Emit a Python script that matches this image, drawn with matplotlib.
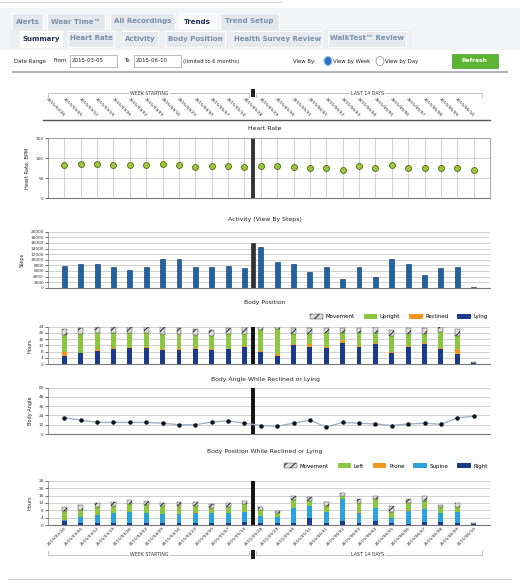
import numpy as np
import matplotlib
matplotlib.use("Agg")
import matplotlib.pyplot as plt
from matplotlib.patches import Rectangle, Patch, Circle

# ---- data ----
WEEKS = ["2015/02/26", "2015/03/05", "2015/03/12", "2015/03/19", "2015/03/26", "2015/04/02",
         "2015/04/09", "2015/04/16", "2015/04/23", "2015/04/30", "2015/05/07", "2015/05/14"]
DAYS = ["2015/05/28", "2015/05/29", "2015/05/30", "2015/05/31", "2015/06/01", "2015/06/02",
        "2015/06/03", "2015/06/04", "2015/06/05", "2015/06/06", "2015/06/07", "2015/06/08",
        "2015/06/09", "2015/06/10"]

HR_WEEK = [83, 84, 84, 83, 82, 83, 84, 82, 78, 79, 80, 77]
HR_DAY = [79, 80, 77, 75, 75, 71, 80, 74, 82, 76, 74, 74, 76, 71]

STEPS_WEEK = [7800, 8300, 8500, 7400, 6200, 7500, 10100, 10100, 7500, 7300, 7700, 7000]
STEPS_DAY = [14400, 9300, 8300, 5600, 7300, 3000, 7500, 3700, 10400, 8300, 4600, 7000, 7300, 300]
STEPS_SEPARATOR = 16000

# body position, hours per layer (bottom -> top)
LYING = [5.4, 6.9, 8.6, 9.4, 10.5, 10.1, 9.2, 9.2, 9.6, 9.0, 9.4, 10.9,
         7.5, 5.4, 12.4, 10.9, 10.1, 13.7, 10.9, 13.1, 7.1, 11.1, 12.6, 9.6, 6.6, 0.6]
RECLINED = [2.1, 0.4, 0.8, 0.7, 0.4, 0.6, 0.7, 0.9, 0.5, 0.4, 0.5, 0.5,
            0.8, 0.8, 0.7, 1.7, 0.6, 1.9, 0.7, 0.6, 0.4, 0.7, 0.9, 0.7, 2.8, 0.0]
UPRIGHT = [11.1, 12.0, 10.5, 9.6, 8.8, 9.2, 9.6, 9.4, 8.5, 8.8, 9.6, 8.1,
           13.3, 16.1, 6.0, 6.9, 9.0, 4.3, 8.1, 6.2, 10.3, 7.5, 5.6, 10.3, 8.6, 0.0]
MOVEMENT = [3.9, 3.6, 3.9, 3.9, 3.9, 3.7, 4.1, 3.9, 3.9, 3.4, 3.6, 4.1,
            2.0, 1.3, 4.0, 3.9, 3.7, 3.0, 3.2, 3.7, 4.1, 3.6, 4.0, 3.4, 4.3, 0.4]

ANGLE = [21, 18, 15, 15, 15, 15, 14, 12, 12, 15.5, 17, 14,
         11, 10, 14, 18, 9, 15, 14, 13, 11, 13, 14, 12.5, 21, 23]

# reclined or lying, hours per layer (bottom -> top)
RIGHT = [2.5, 1.1, 1.4, 1.4, 1.4, 1.3, 1.3, 1.4, 1.3, 1.3, 1.4, 1.8,
         1.1, 1.1, 1.1, 3.8, 1.1, 2.3, 1.1, 2.5, 1.1, 0.9, 2.0, 2.0, 1.4, 0.7]
SUPINE = [0.4, 3.2, 4.1, 5.0, 5.9, 5.1, 4.6, 4.7, 5.5, 5.1, 5.0, 5.5,
          3.9, 3.2, 8.0, 6.6, 6.1, 11.7, 5.7, 6.6, 2.7, 7.0, 6.6, 4.4, 5.9, 0.0]
PRONE = [0.1, 0.1, 0.1, 0.1, 0.1, 0.1, 0.1, 0.1, 0.1, 0.1, 0.1, 0.1,
         0.1, 0.1, 0.1, 0.1, 0.1, 0.1, 0.1, 0.1, 0.1, 0.1, 0.1, 0.1, 0.1, 0.0]
LEFT = [4.7, 3.8, 4.4, 4.1, 4.1, 4.4, 4.6, 4.2, 3.7, 2.8, 3.5, 3.9,
        3.1, 2.0, 4.4, 2.6, 3.1, 1.7, 4.9, 4.8, 3.4, 3.8, 4.5, 3.2, 2.6, 0.0]
MOVEMENT_RL = [2.3, 2.7, 2.2, 1.8, 2.1, 2.2, 1.4, 2.0, 1.8, 2.2, 1.8, 1.9,
               1.6, 1.5, 2.2, 1.9, 2.3, 1.4, 2.2, 1.9, 3.1, 2.2, 2.6, 1.2, 2.2, 0.3]

W, H = 520, 585
GREEN, ORANGE, NAVY, SKY = "#8cc63f", "#f7941d", "#1c3a8a", "#2aa3dc"
MOVE_FACE, MOVE_EDGE = "#dcdcdc", "#333333"
TAB_TXT, TAB_ACTIVE = "#7a8eab", "#1e2e52"

plt.rcParams["font.family"] = ["DejaVu Sans"]
plt.rcParams["hatch.linewidth"] = 0.8


def px_box(l, t, r, b):
    return [l / W, 1 - b / H, (r - l) / W, (b - t) / H]


def ftext(x, y, s, **kw):
    fig.text(x / W, 1 - y / H, s, **kw)


def frect(l, t, r, b, **kw):
    fig.patches.append(Rectangle((l / W, 1 - b / H), (r - l) / W, (b - t) / H,
                                 transform=fig.transFigure, **kw))


fig = plt.figure(figsize=(5.2, 5.85), dpi=100)
fig.patch.set_facecolor("white")

# ---- tab strip / controls ----
frect(0, 8, 520, 50, facecolor="#f3f4f6", edgecolor="none")
frect(0, 2, 282, 3, facecolor="#d5d5d5", edgecolor="none")
for l, r, s, active in [(12, 43, "Alerts", False), (47, 105, "Wear Time™", False),
                        (110, 175, "All Recordings", False), (179, 216, "Trends", True),
                        (220, 279, "Trend Setup", False)]:
    frect(l, 13, r, 30, facecolor="#fafafa" if active else "#e4e7eb", edgecolor="white", lw=0.8)
    ftext((l + r) / 2, 21.5, s, fontsize=5, weight="bold", ha="center", va="center",
          color=TAB_ACTIVE if active else TAB_TXT)
frect(10, 30, 412, 48, facecolor="#eceef1", edgecolor="none")
for l, r, s, active in [(20, 62, "Summary", True), (68, 114, "Heart Rate", False),
                        (123, 158, "Activity", False), (165, 225, "Body Position", False),
                        (233, 322, "Health Survey Review", False), (328, 406, "WalkTest™ Review", False)]:
    frect(l, 31, r, 47, facecolor="white" if active else "#e6e9ed", edgecolor="white", lw=0.8)
    ftext((l + r) / 2, 38.5, s, fontsize=5, weight="bold", ha="center", va="center",
          color=TAB_ACTIVE if active else TAB_TXT)

ftext(14, 61, "Date Range", fontsize=3.9, va="center", color="#222")
ftext(53, 61, "From", fontsize=3.9, va="center", color="#222")
frect(70, 55, 117, 67, facecolor="white", edgecolor="#a0a0a0", lw=0.5)
ftext(72, 61, "2015-03-05", fontsize=4, va="center", color="#222")
ftext(124, 61, "To", fontsize=3.9, va="center", color="#222")
frect(134, 55, 181, 67, facecolor="white", edgecolor="#a0a0a0", lw=0.5)
ftext(136, 61, "2015-06-10", fontsize=4, va="center", color="#222")
ftext(183, 61, "(limited to 6 months)", fontsize=3.8, va="center", color="#222")
ftext(293, 61, "View By:", fontsize=3.9, va="center", color="#222")
fig.patches.append(Circle((328 / W, 1 - 61 / H), 4 / W, transform=fig.transFigure,
                          facecolor="#2d6fc0", edgecolor="#a8c4e6", lw=0.8))
ftext(333, 61, "View by Week", fontsize=3.9, va="center", color="#222")
fig.patches.append(Circle((380 / W, 1 - 61 / H), 4 / W, transform=fig.transFigure,
                          facecolor="white", edgecolor="#888", lw=0.5))
ftext(385, 61, "View by Day", fontsize=3.9, va="center", color="#222")
frect(452, 54, 498, 68, facecolor="#5cb531", edgecolor="#4a9a27", lw=0.5)
ftext(475, 61, "Refresh", fontsize=4.3, weight="bold", ha="center", va="center", color="white")
frect(12, 71, 508, 73, facecolor="#b4b4b4", edgecolor="none")
frect(8, 579, 512, 580, facecolor="#cfcfcf", edgecolor="none")

labels = WEEKS + DAYS
n_week = len(WEEKS)
x_all = np.arange(len(labels))
x_week, x_day = x_all[:n_week], x_all[n_week:]
sep = n_week - 0.5
XLIM = (-1, len(labels))
BAR_W = 0.3


def bracket(ax, y, up):
    tr = ax.get_xaxis_transform()
    d = 0.1 if up else -0.1
    for x0, x1, xm, s in [(-1, sep - 0.2, 5.2, "WEEK STARTING"), (sep + 0.2, 25.5, 18.5, "LAST 14 DAYS")]:
        ax.plot([x0, x0, x1, x1], [y + d, y, y, y + d], transform=tr, color="#b8b8b8", lw=0.6,
                clip_on=False)
        ax.text(xm, y, s, transform=tr, fontsize=3.4, ha="center", va="center", color="#333",
                bbox=dict(facecolor="white", edgecolor="none", pad=0.6))
    ax.add_patch(Rectangle((sep - 0.12, y - 0.12), 0.24, 0.24, transform=tr,
                           facecolor="#222", edgecolor="none"))


# ---- top date header ----
hdr = fig.add_axes(px_box(48, 85, 490, 119))
hdr.set_xlim(*XLIM)
hdr.set_ylim(0, 1)
hdr.axis("off")
for xi, s in zip(x_all, labels):
    hdr.text(xi, 0.08, s, fontsize=3.2, rotation=-45, rotation_mode="anchor",
             ha="right", va="center", color="#222")
bracket(hdr, 0.76, up=False)
hdr.plot([-1.3, XLIM[1]], [-0.02, -0.02], color="#555", lw=1.0, clip_on=False)


def base_axes(box, ylim, yticks, ylabel, title, title_y):
    ax = fig.add_axes(px_box(*box))
    ax.set_xlim(*XLIM)
    ax.set_ylim(*ylim)
    ax.set_yticks(yticks)
    ax.set_xticks([])
    ax.tick_params(axis="y", labelsize=3.1, length=2, width=0.5, pad=1, colors="#333")
    ax.grid(axis="y", color="#c9c9c9", lw=0.6)
    ax.set_axisbelow(True)
    for sp in ["top", "right"]:
        ax.spines[sp].set_visible(False)
    ax.spines["left"].set_color("#888")
    ax.spines["bottom"].set_color("#777")
    ax.spines["left"].set_linewidth(0.6)
    ax.spines["bottom"].set_linewidth(0.8)
    ax.set_ylabel(ylabel, fontsize=3.6, labelpad=4, color="#222")
    ftext(265, title_y, title, fontsize=4.4, ha="center", va="center", color="#222")
    return ax


# ---- heart rate ----
ax = base_axes((48, 138, 490, 198), (0, 150), [0, 50, 100, 150], "Heart Rate, BPM", "Heart Rate", 128)
ax.set_xticks(x_all)
ax.tick_params(axis="x", length=0, labelbottom=False)
ax.grid(axis="x", color="#c9c9c9", lw=0.6)
for sp in ["top", "right"]:
    ax.spines[sp].set_visible(True)
    ax.spines[sp].set_color("#999")
    ax.spines[sp].set_linewidth(0.6)
ax.axvline(sep, color="#333", lw=2.8)
ax.plot(x_week, HR_WEEK, "o", ms=4.3, mfc="#9dc73b", mec="#4b6614", mew=0.6)
ax.plot(x_day, HR_DAY, "o", ms=4.3, mfc="#9dc73b", mec="#4b6614", mew=0.6)

# ---- activity ----
ax = base_axes((48, 231.7, 490, 287.7), (0, 20000), np.arange(0, 20001, 2000), "Steps",
               "Activity (View By Steps)", 219)
ax.bar(x_week, STEPS_WEEK, BAR_W, color="#1f63a5", edgecolor="#0c2f58", lw=0.4)
ax.bar(x_day, STEPS_DAY, BAR_W, color="#1f63a5", edgecolor="#0c2f58", lw=0.4)
ax.bar(sep, STEPS_SEPARATOR, 0.25, color="#333", edgecolor="#111", lw=0.4)


def stacked(ax, layers, colors):
    bottom = np.zeros(len(x_all))
    for vals, c in zip(layers, colors):
        vals = np.asarray(vals, dtype=float)
        if c is None:
            ax.bar(x_all, vals, BAR_W, bottom=bottom, color=MOVE_FACE, edgecolor=MOVE_EDGE,
                   hatch="////", lw=0.3)
        else:
            ax.bar(x_all, vals, BAR_W, bottom=bottom, color=c, edgecolor="none")
        bottom += vals


def legend(ax, items, anchor_y):
    handles = []
    for name, c in items:
        if c is None:
            handles.append(Patch(facecolor=MOVE_FACE, edgecolor=MOVE_EDGE, hatch="////", lw=0.3, label=name))
        else:
            handles.append(Patch(facecolor=c, edgecolor="none", label=name))
    ax.legend(handles=handles, ncol=len(handles), loc="lower right", bbox_to_anchor=(0.995, anchor_y),
              frameon=False, fontsize=4, handlelength=2.4, handleheight=0.9, handletextpad=0.5,
              columnspacing=1.6, borderaxespad=0, borderpad=0)


# ---- body position ----
ax = base_axes((48, 326.7, 490, 364), (0, 24), np.arange(0, 25, 4), "Hours", "Body Position", 302)
stacked(ax, [LYING, RECLINED, UPRIGHT, MOVEMENT], [NAVY, ORANGE, GREEN, None])
ax.axvline(sep, color="#111", lw=2.8)
legend(ax, [("Movement", None), ("Upright", GREEN), ("Reclined", ORANGE), ("Lying", NAVY)], 1.2)

# ---- body angle ----
ax = base_axes((48, 387.7, 490, 434), (0, 60), np.arange(0, 61, 12), "Body Angle",
               "Body Angle While Reclined or Lying", 379)
ax.axvline(sep, color="#111", lw=2.8)
ax.plot(x_all, ANGLE, color="#9db0c6", lw=1.0, marker="o", ms=2.2, mfc="#111", mec="#111")

# ---- body position while reclined or lying ----
ax = base_axes((48, 480.7, 490, 525.3), (0, 24), np.arange(0, 25, 4), "Hours",
               "Body Position While Reclined or Lying", 451)
stacked(ax, [RIGHT, SUPINE, PRONE, LEFT, MOVEMENT_RL], [NAVY, SKY, ORANGE, GREEN, None])
ax.axvline(sep, color="#111", lw=2.8)
legend(ax, [("Movement", None), ("Left", GREEN), ("Prone", ORANGE), ("Supine", SKY), ("Right", NAVY)], 1.27)

# ---- bottom date footer ----
ftr = fig.add_axes(px_box(48, 526, 490, 562))
ftr.set_xlim(*XLIM)
ftr.set_ylim(0, 1)
ftr.axis("off")
for xi, s in zip(x_all, labels):
    ftr.text(xi + 0.1, 0.95, s, fontsize=3.2, rotation=45, rotation_mode="anchor",
             ha="right", va="center", color="#222")
bracket(ftr, 0.2, up=True)

fig.savefig("out.png", dpi=100, facecolor="white")
